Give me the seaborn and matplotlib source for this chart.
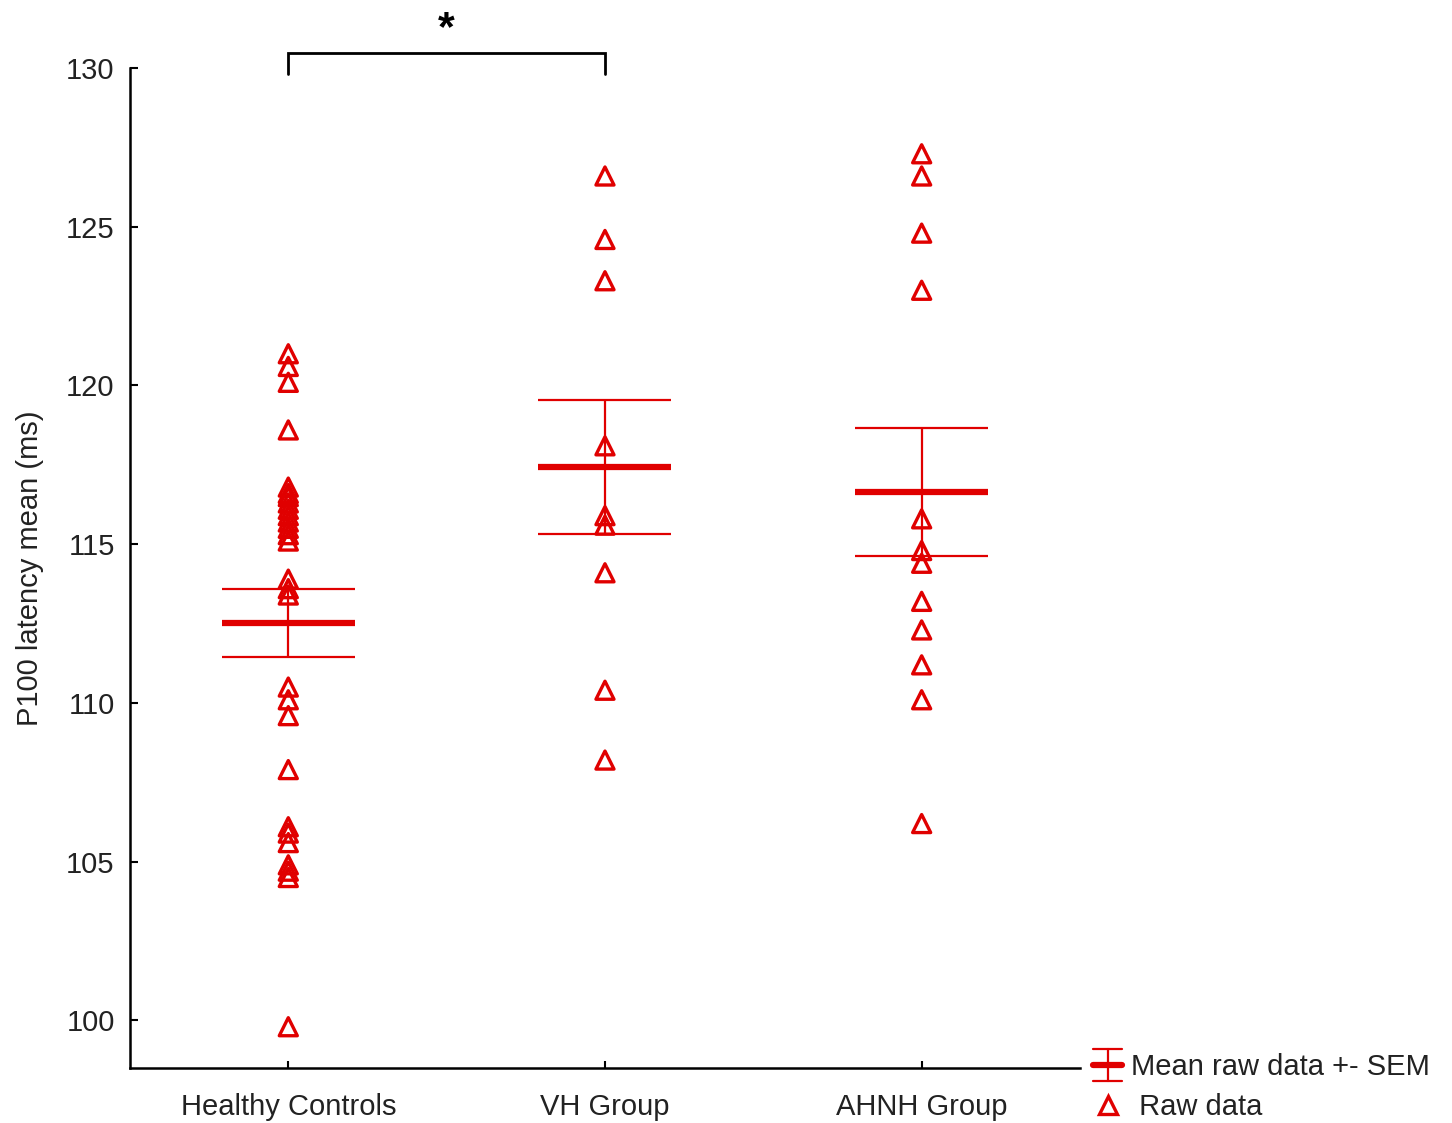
import numpy as np
import pandas as pd
import matplotlib
matplotlib.use("Agg")
import matplotlib.pyplot as plt
from matplotlib.lines import Line2D
from matplotlib.legend_handler import HandlerBase
import seaborn as sns

# P100 latencies (ms) per group
groups = ["Healthy Controls", "VH Group", "AHNH Group"]
healthy_controls = [121.0, 120.6, 120.1, 118.6,
                    116.8, 116.6, 116.5, 116.3, 116.1, 115.9, 115.7, 115.5, 115.3, 115.1,
                    113.9, 113.6, 113.4,
                    110.5, 110.1, 109.6,
                    107.9,
                    106.1, 105.9, 105.6,
                    104.9, 104.7, 104.5,
                    99.8]
vh_group = [126.6, 124.6, 123.3, 118.1, 115.9, 115.6, 114.1, 110.4, 108.2]
ahnh_group = [127.3, 126.6, 124.8, 123.0, 115.8, 114.8, 114.4, 113.2, 112.3,
              111.2, 110.1, 106.2]
y_ticks = [100, 105, 110, 115, 120, 125, 130]

RED = "#e00000"
FS = 21

df = pd.DataFrame({
    "group": [groups[0]] * len(healthy_controls) + [groups[1]] * len(vh_group)
             + [groups[2]] * len(ahnh_group),
    "latency": healthy_controls + vh_group + ahnh_group,
})

sns.set_theme(style="ticks")
plt.rcParams["font.family"] = ["Liberation Sans", "DejaVu Sans"]
plt.rcParams["xtick.direction"] = "in"
plt.rcParams["ytick.direction"] = "in"

fig = plt.figure(figsize=(14.52, 11.23), dpi=100)
fig.patch.set_facecolor("white")
ax = fig.add_axes([0.0895, 0.049, 0.6543, 0.8904])

# raw data as open triangles
sns.stripplot(data=df, x="group", y="latency", order=groups, jitter=False,
              marker="^", size=13, linewidth=2.4, color=RED, ax=ax, zorder=3)
for coll in ax.collections:
    coll.set_facecolor("none")
    coll.set_edgecolor(RED)

# group mean +- SEM
stats = df.groupby("group", sort=False)["latency"].agg(["mean", "sem"]).reindex(groups)
half = 0.21
for i, (m, s) in enumerate(zip(stats["mean"], stats["sem"])):
    ax.hlines(m, i - half, i + half, color=RED, lw=4.5, zorder=4)
    ax.hlines([m - s, m + s], i - half, i + half, color=RED, lw=1.6, zorder=4)
    ax.vlines(i, m - s, m + s, color=RED, lw=1.6, zorder=4)

ax.set_xlim(-0.5, 2.5)
ax.set_ylim(98.5, 130)
ax.set_yticks(y_ticks)
ax.set_yticklabels([str(t) for t in y_ticks])
ax.set_xlabel("")
ax.set_ylabel("P100 latency mean (ms)", fontsize=FS, color="#222222", labelpad=16)
ax.tick_params(axis="y", direction="in", length=6, width=1.5, pad=11,
               labelsize=FS, labelcolor="#222222", color="black")
ax.tick_params(axis="x", direction="in", length=5, width=1.5, pad=18,
               labelsize=FS, labelcolor="#222222", color="black")
for side in ("top", "right"):
    ax.spines[side].set_visible(False)
for side in ("left", "bottom"):
    ax.spines[side].set_linewidth(1.8)
    ax.spines[side].set_color("black")

# significance bracket between Healthy Controls and VH Group
ax.plot([0, 0, 1, 1], [129.8, 130.47, 130.47, 129.8], color="black", lw=2,
        clip_on=False, solid_joinstyle="miter")
ax.text(0.5, 131.22, "*", fontsize=31, fontweight="bold", ha="center", va="center",
        color="black")


class MeanSemHandler(HandlerBase):
    def create_artists(self, legend, orig_handle, xdescent, ydescent, width, height,
                       fontsize, trans):
        cx = -xdescent + width / 2
        cy = -ydescent + height / 2
        h = 0.78 * height
        w = 0.5 * width
        arts = [
            Line2D([cx, cx], [cy - h, cy + h], color=RED, lw=1.6),
            Line2D([cx - w, cx + w], [cy + h, cy + h], color=RED, lw=1.6),
            Line2D([cx - w, cx + w], [cy - h, cy - h], color=RED, lw=1.6),
            Line2D([cx - w, cx + w], [cy, cy], color=RED, lw=4.5),
        ]
        for a in arts:
            a.set_transform(trans)
        return arts


mean_handle = Line2D([], [], color=RED)
raw_handle = Line2D([], [], color=RED, marker="^", markersize=13, markeredgewidth=2.4,
                    markerfacecolor="none", linestyle="none")
fig.legend([mean_handle, raw_handle], ["Mean raw data +- SEM", " Raw data"],
           handler_map={mean_handle: MeanSemHandler()},
           loc="center left", bbox_to_anchor=(0.7528, 0.0320), frameon=False,
           handlelength=1.0, handletextpad=0.3, labelspacing=0.42, borderpad=0,
           borderaxespad=0, fontsize=FS, labelcolor="#222222")

fig.savefig("out.png", dpi=100, facecolor="white")
